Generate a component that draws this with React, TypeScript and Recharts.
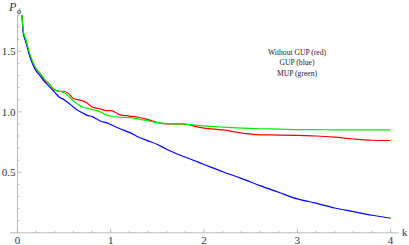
import React from 'react'
import { LineChart, Line, XAxis, YAxis, ReferenceLine } from 'recharts'

// k values shared by all three curves
const kValues = [
  0.05, 0.06, 0.08, 0.1, 0.12, 0.15, 0.19, 0.24, 0.29, 0.34, 0.4, 0.45, 0.5, 0.55, 0.6, 0.65, 0.7,
  0.75, 0.8, 0.85, 0.9, 0.95, 1.0, 1.1, 1.2, 1.3, 1.4, 1.5, 1.6, 1.7, 1.8, 1.9, 2.0, 2.2, 2.4,
  2.6, 2.8, 3.0, 3.2, 3.4, 3.6, 3.8, 4.0
]

// Without GUP (red)
const redValues = [
  1.8, 1.67, 1.61, 1.56, 1.5, 1.43, 1.36, 1.32, 1.26, 1.23, 1.18, 1.17, 1.17, 1.15, 1.11, 1.1, 1.09,
  1.07, 1.04, 1.03, 1.02, 1.01, 1.01, 0.975, 0.965, 0.955, 0.935, 0.912, 0.9, 0.9, 0.898, 0.88, 0.865,
  0.85, 0.825, 0.81, 0.808, 0.805, 0.8, 0.79, 0.775, 0.765, 0.763
]

// GUP (blue)
const blueValues = [
  1.8, 1.66, 1.6, 1.55, 1.49, 1.42, 1.35, 1.3, 1.25, 1.21, 1.16, 1.12, 1.1, 1.07, 1.04, 1.01, 0.99,
  0.97, 0.96, 0.94, 0.92, 0.91, 0.895, 0.86, 0.83, 0.79, 0.76, 0.73, 0.69, 0.655, 0.625, 0.595, 0.565,
  0.505, 0.45, 0.39, 0.335, 0.28, 0.245, 0.205, 0.175, 0.145, 0.12
]

// MUP (green)
const greenValues = [
  1.8, 1.68, 1.62, 1.57, 1.51, 1.44, 1.37, 1.32, 1.27, 1.23, 1.18, 1.17, 1.16, 1.13, 1.09, 1.06, 1.04,
  1.03, 1.02, 1.01, 0.995, 0.975, 0.965, 0.955, 0.952, 0.94, 0.925, 0.91, 0.903, 0.9, 0.898, 0.89, 0.883,
  0.873, 0.865, 0.86, 0.857, 0.853, 0.852, 0.851, 0.85, 0.85, 0.85
]

const xTicks = [0, 0.2, 0.4, 0.6, 0.8, 1, 1.2, 1.4, 1.6, 1.8, 2, 2.2, 2.4, 2.6, 2.8, 3, 3.2, 3.4, 3.6, 3.8, 4]
const yTicks = [0.1, 0.2, 0.3, 0.4, 0.5, 0.6, 0.7, 0.8, 0.9, 1.0, 1.1, 1.2, 1.3, 1.4, 1.5, 1.6, 1.7]
const xMajor = [0, 1, 2, 3, 4]
const yMajor = [0.5, 1.0, 1.5]

const legendLines = ['Without GUP (red)', 'GUP (blue)', 'MUP (green)']

const data = kValues.map((k, i) => ({
  k,
  red: redValues[i],
  blue: blueValues[i],
  green: greenValues[i]
}))

const W = 409
const H = 245
const MARGIN = { top: 15, right: 10, left: 0, bottom: 0 }
const Y_AXIS_W = 10
const X_AXIS_H = 12.2
const X_DOMAIN: [number, number] = [-0.08, 4.09]
const Y_DOMAIN: [number, number] = [0, 1.8]

const plotLeft = MARGIN.left + Y_AXIS_W
const plotWidth = W - plotLeft - MARGIN.right
// pixel where k = 0 sits (the vertical axis of the original)
const yAxisPx = plotLeft + ((0 - X_DOMAIN[0]) / (X_DOMAIN[1] - X_DOMAIN[0])) * plotWidth

const SERIF = '"Liberation Serif", "DejaVu Serif", serif'
const AXIS = '#a8a8a8'
const LABEL = '#333'

const near = (a: number, list: number[]) => list.some(v => Math.abs(v - a) < 1e-6)

const XTick = (props: any) => {
  const { x, y, payload } = props
  const major = near(payload.value, xMajor)
  return (
    <g>
      <line x1={x} x2={x} y1={y} y2={y - (major ? 4 : 2)} stroke={AXIS} strokeWidth={0.8} />
      {major && (
        <text x={x} y={y + 11} textAnchor="middle" fontSize={11} fill={LABEL} fontFamily={SERIF}>
          {payload.value}
        </text>
      )}
    </g>
  )
}

const YTick = (props: any) => {
  const { x, y, payload } = props
  const major = near(payload.value, yMajor)
  return (
    <g>
      <line x1={yAxisPx} x2={yAxisPx + (major ? 4 : 2)} y1={y} y2={y} stroke={AXIS} strokeWidth={0.8} />
      {major && (
        <text x={x + 5.5} y={y + 3.8} textAnchor="end" fontSize={11} fill={LABEL} fontFamily={SERIF}>
          {payload.value.toFixed(1)}
        </text>
      )}
    </g>
  )
}

export default function App() {
  return (
    <div style={{ position: 'absolute', left: 0, top: 0, width: W, height: H, background: '#fff' }}>
      <LineChart width={W} height={H} data={data} margin={MARGIN}>
        <XAxis
          dataKey="k"
          type="number"
          domain={X_DOMAIN}
          ticks={xTicks}
          allowDataOverflow
          height={X_AXIS_H}
          tickSize={0}
          tickMargin={0}
          interval={0}
          axisLine={{ stroke: AXIS, strokeWidth: 0.8 }}
          tick={<XTick />}
        />
        <YAxis
          type="number"
          domain={Y_DOMAIN}
          ticks={yTicks}
          allowDataOverflow
          width={Y_AXIS_W}
          tickSize={0}
          tickMargin={0}
          interval={0}
          axisLine={false}
          tick={<YTick />}
        />
        <ReferenceLine
          segment={[{ x: 0, y: 0 }, { x: 0, y: 1.8 }]}
          stroke={AXIS}
          strokeWidth={0.8}
        />
        <Line type="monotone" dataKey="red" stroke="#ff0000" strokeWidth={1.2} dot={false} isAnimationActive={false} />
        <Line type="monotone" dataKey="blue" stroke="#0000ff" strokeWidth={1.2} dot={false} isAnimationActive={false} />
        <Line type="monotone" dataKey="green" stroke="#00ee00" strokeWidth={1.2} dot={false} isAnimationActive={false} />
        <text x={9} y={11} fontSize={12} fontStyle="italic" fill={LABEL} fontFamily={SERIF}>P</text>
        <text x={17} y={14} fontSize={8} fontStyle="italic" fill={LABEL} fontFamily={SERIF}>ϕ</text>
        <text x={402} y={235.5} fontSize={11} fill={LABEL} fontFamily={SERIF}>k</text>
        {legendLines.map((t, i) => (
          <text key={t} x={297} y={54.5 + i * 10.5} textAnchor="middle" fontSize={7.6} fill="#222" fontFamily={SERIF}>
            {t}
          </text>
        ))}
      </LineChart>
    </div>
  )
}
